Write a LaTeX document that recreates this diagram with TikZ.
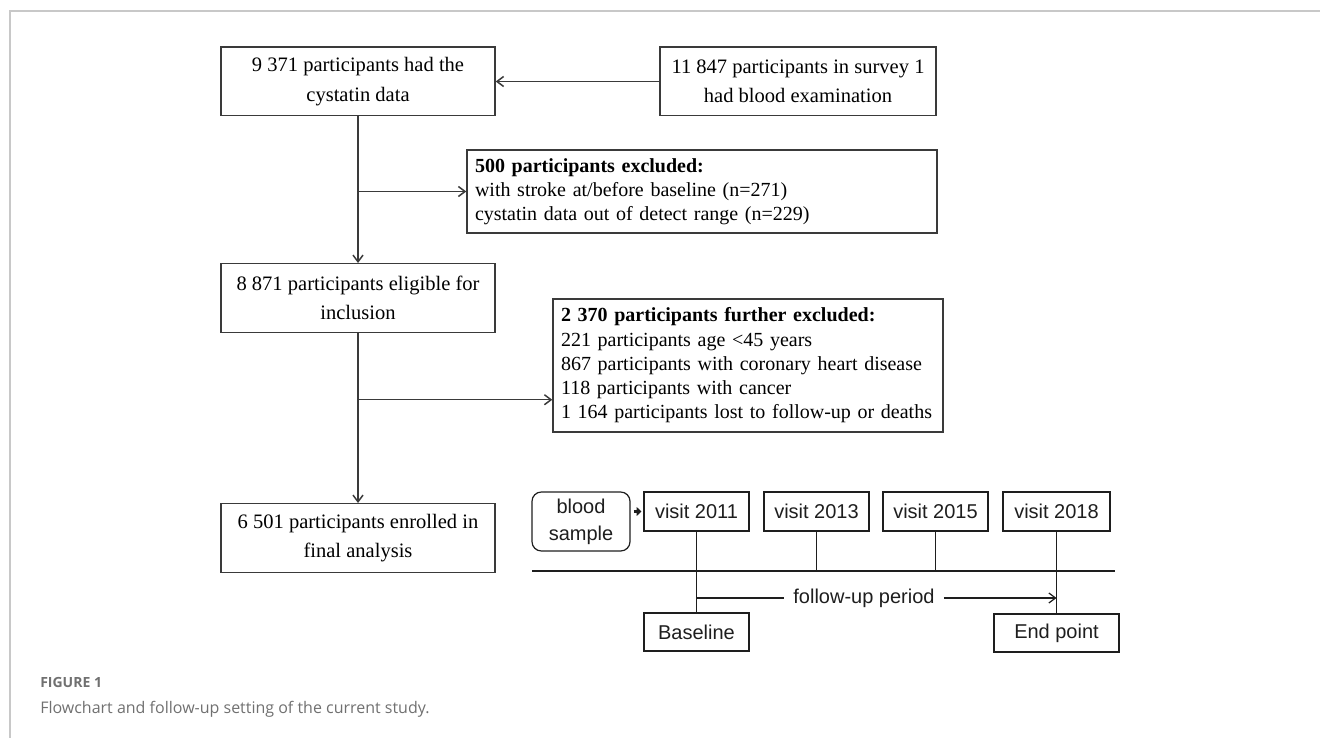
\documentclass[tikz,border=0pt]{standalone}
\usepackage{fontspec}
\setmainfont{Liberation Serif}
\newfontfamily\arialf{Liberation Sans}
\newfontfamily\capf{Open Sans}
\usetikzlibrary{arrows.meta,calc}
\definecolor{framegray}{HTML}{C8C8C8}
\definecolor{linec}{HTML}{3A3A3A}
\definecolor{tlc}{HTML}{1E1E1E}
\definecolor{capgray}{HTML}{707070}
\begin{document}
\begin{tikzpicture}[x=0.75pt,y=-0.75pt,
  flow/.style={draw=linec,line width=1.1pt,text=black,inner sep=0pt},
  cbox/.style={flow,align=center,font=\fontsize{15.4}{22}\selectfont,minimum width=205.5pt,minimum height=51.4pt},
  lbox/.style={flow,align=left,font=\fontsize{15}{18.2}\selectfont,inner xsep=6pt},
  conn/.style={draw=linec,line width=1.1pt},
  barb/.style={-{Straight Barb[length=5pt,width=7.5pt]}},
  tbox/.style={draw=tlc,line width=0.9pt,inner sep=0pt,font=\arialf\fontsize{15}{19}\selectfont,text=tlc,minimum width=78.75pt,minimum height=29.25pt},
  tline/.style={draw=tlc,line width=0.9pt},
]
\useasboundingbox (0,0) rectangle (1320,738);
\coordinate (fr-tr) at (1320,11);
\coordinate (fr-tl) at (10,11);
\coordinate (fr-bl) at (10,738);
\draw[framegray,line width=0.9pt] (fr-tr) -- (fr-tl) -- (fr-bl);

% flowchart
\node[cbox] (A) at (358,81.5) {9 371 participants had the\\cystatin data};
\node[cbox,minimum width=207pt] (B) at (798,81.5) {11 847 participants in survey 1\\had blood examination};
\node[lbox,text width=340.5pt,minimum height=62.25pt] (C) at (702,191.5) {\textbf{500 participants excluded:}\\with stroke at/before baseline (n=271)\\cystatin data out of detect range (n=229)};
\node[cbox] (D) at (358,298) {8 871 participants eligible for\\inclusion};
\node[lbox,text width=280.5pt,minimum height=99.75pt] (E) at (748,365.5) {\mbox{\textbf{2 370 participants further excluded:}}\\\mbox{221 participants age <45 years}\\\mbox{867 participants with coronary heart disease}\\\mbox{118 participants with cancer}\\\mbox{1 164 participants lost to follow-up or deaths}};
\node[cbox] (F) at (358,538) {6 501 participants enrolled in\\final analysis};

\draw[conn,barb] (B.west) -- (A.east);
\draw[conn,barb] (A.south) -- (D.north);
\draw[conn,barb] (A.south |- C.west) -- (C.west);
\draw[conn,barb] (D.south) -- (F.north);
\coordinate (Ein) at ($(E.south west)+(0,-33)$);
\draw[conn,barb] (D.south |- Ein) -- (Ein);

% timeline
\node[tbox,rounded corners=7pt,align=center,font=\arialf\fontsize{15}{20.5}\selectfont,minimum width=73.5pt,minimum height=44.25pt] (blood) at (581,521.5) {blood\\sample};
\node[tbox] (v11) at (696.5,511.5) {visit 2011};
\node[tbox] (v13) at (816.5,511.5) {visit 2013};
\node[tbox] (v15) at (935.5,511.5) {visit 2015};
\node[tbox,minimum width=80.25pt] (v18) at (1056.5,511.5) {visit 2018};
\node[tbox,minimum height=28.5pt] (base) at (696.5,632) {Baseline};
\node[tbox,minimum width=93.75pt,minimum height=28.5pt] (endp) at (1056.5,633) {End point};
\coordinate (hl1) at (532,571);
\coordinate (hl2) at (1115,571);
\node[font=\arialf\fontsize{15}{19}\selectfont,text=tlc,inner xsep=6.75pt,inner ysep=0pt] (fu) at (864,598) {follow-up period};

\draw[tlc,line width=2.3pt,-{Triangle[length=3.5pt,width=6.5pt]},shorten <=2.2pt,shorten >=1.5pt] (blood.east |- v11.west) -- (v11.west);
\draw[tline] (hl1) -- (hl2);
\draw[tline] (v11.south) -- (base.north);
\draw[tline] (v13.south) -- (v13.south |- hl1);
\draw[tline] (v15.south) -- (v15.south |- hl1);
\draw[tline] (v18.south) -- (endp.north);
\draw[tline] (v11.south |- fu.west) -- (fu.west);
\draw[tline,-{Straight Barb[length=5pt,width=7.5pt]}] (fu.east) -- (v18.south |- fu.east);

% caption
\node[anchor=base west,inner sep=0pt,font=\capf\bfseries\fontsize{10.5}{12}\selectfont,text=capgray] (figlab) at (40,687) {FIGURE 1};
\node[anchor=base west,inner sep=0pt,font=\capf\fontsize{12}{14}\selectfont,text=capgray] (figcap) at (40,713) {Flowchart and follow-up setting of the current study.};
\end{tikzpicture}
\end{document}
